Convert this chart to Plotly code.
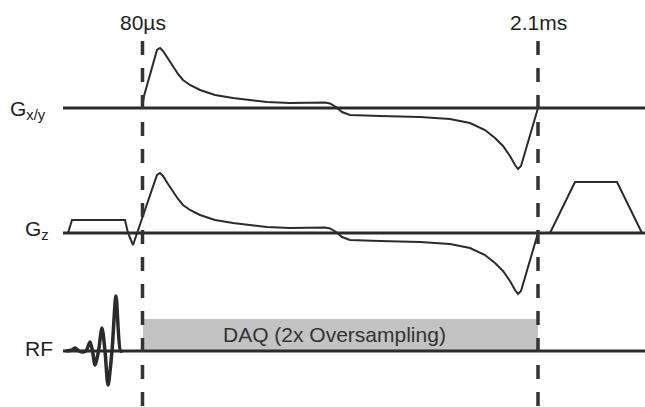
import plotly.graph_objects as go

# --- channel baselines (vertical position of each channel's zero line) ---
channels = ["Gx/y", "Gz", "RF"]
baseline_y = [108, 233, 351]
line_start = 63
line_end = 645

# --- timing markers ---
marker_labels = ["80µs", "2.1ms"]
marker_t = [142.5, 538]

# --- readout gradient waveform (Gx/y) : time, amplitude ---
gxy_t = [142, 144, 157, 160, 163, 168, 173, 178, 183, 190, 200, 215, 233, 250, 267, 290,
         315, 325, 330, 336, 342, 350, 380, 420, 450, 470, 485, 495, 503, 510, 515, 518, 521, 538]
gxy_amp = [0, 12, 58, 60, 57, 49, 41, 34, 28, 23, 18, 13, 10, 8, 6, 5,
           5, 5.5, 4.5, 1, -4, -7, -8, -9, -11, -15, -22, -30, -38, -48, -57, -61, -58, 0]

# --- slice gradient (Gz): slice select + refocus, then readout, then rewinder ---
gz_pre_t = [68, 72, 125, 128, 133]
gz_pre_amp = [0, 13, 13, 0, -12]
gz_post_t = [538, 550, 575, 617, 642]
gz_post_amp = [0, 0, 51, 51, 0]

# --- RF pulse (half sinc) ---
rf_t = [66, 72, 75, 79, 83, 86, 90, 92.5, 95, 98.5, 102, 105, 108, 112, 116, 120.5, 122]
rf_amp = [0, 1, 3, 0, -1, 0, 9, 0, -14, 0, 23, 0, -34, 0, 55, 0, 0]

# --- data acquisition window ---
daq_label = "DAQ (2x Oversampling)"
daq_start, daq_end = 143, 538
daq_height = 32

fig = go.Figure()
dark = "#2b2b2b"

# baselines
for b in baseline_y:
    fig.add_shape(type="line", x0=line_start, x1=line_end, y0=b, y1=b,
                  line=dict(color=dark, width=3), layer="above")

# DAQ box
fig.add_shape(type="rect", x0=daq_start, x1=daq_end, y0=baseline_y[2] - daq_height,
              y1=baseline_y[2] - 1, fillcolor="#c3c3c3", line=dict(width=0), layer="below")

# waveforms
gz_t = gz_pre_t + [t for t, a in zip(gxy_t, gxy_amp) if t >= 157] + gz_post_t[1:]
gz_amp = gz_pre_amp + [a for t, a in zip(gxy_t, gxy_amp) if t >= 157] + gz_post_amp[1:]

fig.add_trace(go.Scatter(x=gxy_t, y=[baseline_y[0] - a for a in gxy_amp], mode="lines",
                         line=dict(color=dark, width=2), hoverinfo="skip"))
fig.add_trace(go.Scatter(x=gz_t, y=[baseline_y[1] - a for a in gz_amp], mode="lines",
                         line=dict(color=dark, width=2), hoverinfo="skip"))
fig.add_trace(go.Scatter(x=rf_t, y=[baseline_y[2] - a for a in rf_amp], mode="lines",
                         line=dict(color=dark, width=3.5, shape="spline", smoothing=0.8),
                         hoverinfo="skip"))

# dashed timing markers
for t, lab in zip(marker_t, marker_labels):
    fig.add_shape(type="line", x0=t, x1=t, y0=41, y1=407,
                  line=dict(color="#333333", width=3.5, dash="14px,13px"), layer="above")
    fig.add_annotation(x=t, y=22, text=lab, showarrow=False, xanchor="center", yanchor="middle",
                       font=dict(size=21, color="#222222", family="Liberation Sans, Arial"))

# channel labels
label_text = ["G<sub>x/y</sub>", "G<sub>z</sub>", "RF"]
label_x = [8, 23, 23]
label_y = [110, 230, 348]
for txt, x, y in zip(label_text, label_x, label_y):
    fig.add_annotation(x=x, y=y, text=txt, showarrow=False, xanchor="left", yanchor="middle",
                       font=dict(size=21, color="#222222", family="Liberation Sans, Arial"))

fig.add_annotation(x=(daq_start + daq_end) / 2 - 6, y=baseline_y[2] - 17, text=daq_label,
                   showarrow=False, xanchor="center", yanchor="middle",
                   font=dict(size=21, color="#333333", family="Liberation Sans, Arial"))

fig.update_layout(width=645, height=407, margin=dict(l=0, r=0, t=0, b=0),
                  plot_bgcolor="white", paper_bgcolor="white", showlegend=False,
                  xaxis=dict(range=[0, 645], visible=False, fixedrange=True),
                  yaxis=dict(range=[407, 0], visible=False, fixedrange=True))

fig.write_html("out.html", config={"displayModeBar": False},
               post_script="document.body.style.margin='0px';document.body.style.overflow='hidden';")
